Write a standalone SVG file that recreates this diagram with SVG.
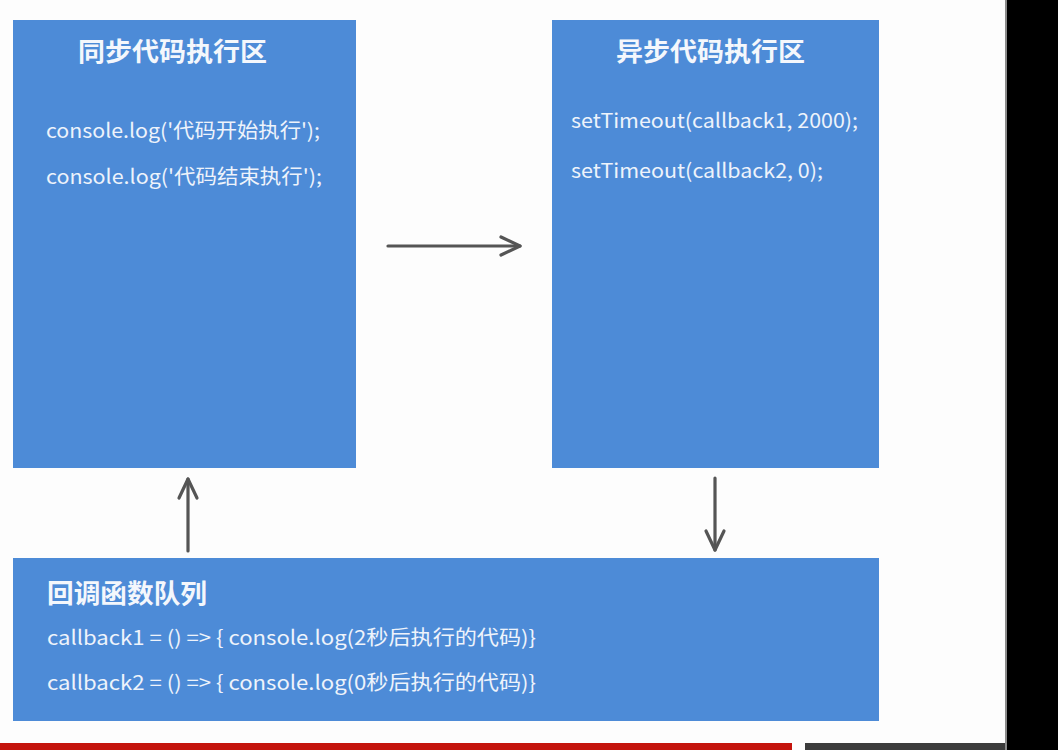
<svg xmlns="http://www.w3.org/2000/svg" width="1058" height="750" viewBox="0 0 1058 750">
<defs>
<style>
.box{fill:#4d8bd7;}
.title{font-family:"Noto Sans CJK SC","Noto Sans",sans-serif;font-weight:bold;font-size:26px;fill:#f4f7fc;}
.code{font-family:"Noto Sans CJK SC","Noto Sans",sans-serif;font-size:20px;fill:#eef3fb;}
.conn{stroke:#555555;stroke-width:3.2;fill:none;stroke-linecap:round;stroke-linejoin:round;}
</style>
</defs>
<rect x="0" y="0" width="1058" height="750" fill="#fdfdfd"/>
<rect x="1007" y="0" width="51" height="750" fill="#000000"/>
<rect x="1005" y="0" width="2" height="750" fill="#8a8a8a"/>
<rect x="0" y="743" width="792" height="7" fill="#c4140c"/>
<rect x="805" y="743" width="200" height="7" fill="#3c3c3c"/>

<g id="sync">
<rect class="box" x="13" y="20" width="343" height="448"/>
<text class="title" x="78" y="61" textLength="189" lengthAdjust="spacingAndGlyphs">同步代码执行区</text>
<text class="code" x="46" y="138" textLength="274" lengthAdjust="spacingAndGlyphs">console.log('代码开始执行');</text>
<text class="code" x="46" y="184" textLength="276" lengthAdjust="spacingAndGlyphs">console.log('代码结束执行');</text>
</g>

<g id="async">
<rect class="box" x="552" y="20" width="327" height="448"/>
<text class="title" x="616" y="61" textLength="189" lengthAdjust="spacingAndGlyphs">异步代码执行区</text>
<text class="code" x="571" y="128" textLength="287" lengthAdjust="spacingAndGlyphs">setTimeout(callback1, 2000);</text>
<text class="code" x="571" y="178" textLength="252" lengthAdjust="spacingAndGlyphs">setTimeout(callback2, 0);</text>
</g>

<g id="queue">
<rect class="box" x="13" y="558" width="866" height="163"/>
<text class="title" x="47" y="603" textLength="160" lengthAdjust="spacingAndGlyphs">回调函数队列</text>
<text class="code" x="47" y="645" textLength="489" lengthAdjust="spacingAndGlyphs">callback1 = () =&gt; { console.log(2秒后执行的代码)}</text>
<text class="code" x="47" y="690" textLength="489" lengthAdjust="spacingAndGlyphs">callback2 = () =&gt; { console.log(0秒后执行的代码)}</text>
</g>

<g id="connectors">
<line class="conn" x1="388" y1="246" x2="520" y2="246"/>
<path class="conn" d="M501,237 L520,246 L501,255"/>
<line class="conn" x1="715" y1="478" x2="715" y2="550"/>
<path class="conn" d="M706,531 L715,550 L724,531"/>
<line class="conn" x1="188" y1="551" x2="188" y2="479"/>
<path class="conn" d="M179,498 L188,479 L197,498"/>
</g>
</svg>
